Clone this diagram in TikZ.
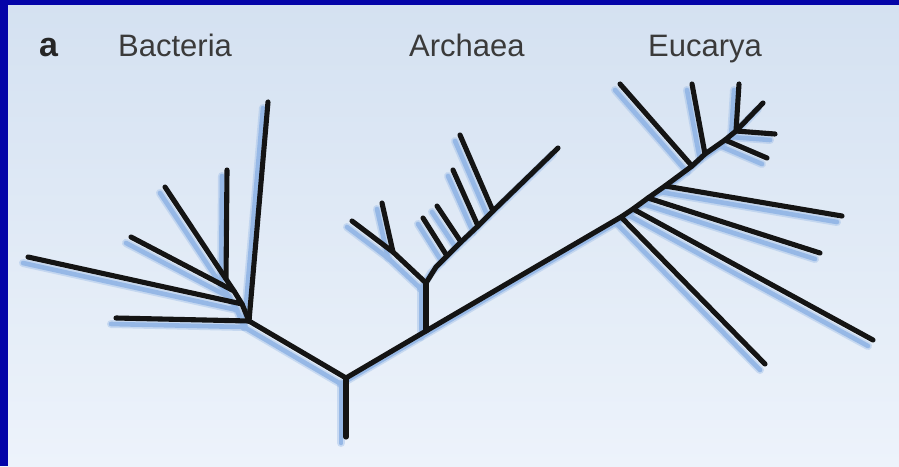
\documentclass[tikz,border=0pt]{standalone}
\usepackage{fontspec}
\setmainfont{Liberation Sans}
\definecolor{frameblue}{RGB}{4,4,168}
\definecolor{bgtop}{RGB}{212,225,241}
\definecolor{bgbot}{RGB}{237,243,251}
\definecolor{shadowblue}{RGB}{150,184,230}
\definecolor{labelgray}{RGB}{58,58,58}
\begin{document}
\begin{tikzpicture}[x=1pt,y=-1pt,
  edge/.style={line width=5.1pt,line cap=round,line join=round},
  label/.style={anchor=base west,inner sep=0pt,text=labelgray,font=\fontsize{31}{31}\selectfont}]
\useasboundingbox (0,0) rectangle (899,466);
% background
\shade[top color=bgtop,bottom color=bgbot] (0,0) rectangle (899,466);
\fill[frameblue] (0,0) rectangle (899,5);
\fill[frameblue] (0,0) rectangle (8,466);
% labels
\node[label,font=\fontsize{34}{34}\selectfont\bfseries,text=black!85] (lab-a) at (39,56) {a};
\node[label] (lab-b) at (118,56) {Bacteria};
\node[label] (lab-ar) at (409,56) {Archaea};
\node[label] (lab-eu) at (648,56) {Eucarya};
% coordinates
\coordinate (rb) at (346,437);
\coordinate (R) at (346,378);
% bacteria
\coordinate (B) at (249,321);
\coordinate (B3) at (242,304);
\coordinate (B2) at (234,291);
\coordinate (B1) at (226,279);
\coordinate (bl1) at (227,170);
\coordinate (bl2) at (165,187);
\coordinate (bl3) at (131,237);
\coordinate (bl4) at (28,257);
\coordinate (bl5) at (116,318);
\coordinate (bl6) at (268,102);
% archaea
\coordinate (A0) at (426,331);
\coordinate (A) at (426,283);
\coordinate (AL) at (393,252);
\coordinate (al1) at (352,221);
\coordinate (al2) at (382,203);
\coordinate (AR) at (436,267);
\coordinate (J1) at (447,256);
\coordinate (J2) at (461,242);
\coordinate (J3) at (478,226);
\coordinate (J4) at (493,211);
\coordinate (ar0) at (558,148);
\coordinate (ar1) at (423,218);
\coordinate (ar2) at (437,206);
\coordinate (ar3) at (453,170);
\coordinate (ar4) at (460,135);
% eucarya
\coordinate (E1) at (621,217);
\coordinate (E2) at (633,209);
\coordinate (E3) at (648,198);
\coordinate (E4) at (665,186);
\coordinate (E5) at (692,166);
\coordinate (E6) at (705,154);
\coordinate (E6b) at (725,140);
\coordinate (E7) at (736,131);
\coordinate (eu1) at (765,364);
\coordinate (eu2) at (873,340);
\coordinate (eu3) at (820,253);
\coordinate (eu4) at (842,216);
\coordinate (eu5) at (620,84);
\coordinate (eu6) at (692,84);
\coordinate (eu7) at (739,84);
\coordinate (eu8) at (763,103);
\coordinate (eu9) at (775,134);
\coordinate (eu10) at (767,158);
\newcommand\treeedges{%
  \draw[edge] (rb) -- (R);
  \draw[edge] (R) -- (B);
  \draw[edge] (bl5) -- (B);
  \draw[edge] (bl6) -- (B);
  \draw[edge] (bl4) -- (B3) -- (B);
  \draw[edge] (bl3) -- (B2) -- (B3);
  \draw[edge] (bl1) -- (B1) -- (B2);
  \draw[edge] (bl2) -- (B1);
  \draw[edge] (R) -- (A0) -- (E1) -- (E2) -- (E3) -- (E4) -- (E5) -- (E6) -- (E6b) -- (E7);
  \draw[edge] (A0) -- (A);
  \draw[edge] (al1) -- (AL) -- (A);
  \draw[edge] (al2) -- (AL);
  \draw[edge] (A) -- (AR) -- (J1) -- (J2) -- (J3) -- (J4) -- (ar0);
  \draw[edge] (ar1) -- (J1);
  \draw[edge] (ar2) -- (J2);
  \draw[edge] (ar3) -- (J3);
  \draw[edge] (ar4) -- (J4);
  \draw[edge] (E1) -- (eu1);
  \draw[edge] (E2) -- (eu2);
  \draw[edge] (E3) -- (eu3);
  \draw[edge] (E4) -- (eu4);
  \draw[edge] (eu5) -- (E5);
  \draw[edge] (eu6) -- (E6);
  \draw[edge] (E7) -- (eu7);
  \draw[edge] (E7) -- (eu8);
  \draw[edge] (E7) -- (eu9);
  \draw[edge] (E6b) -- (eu10);
}
% shadow
\begin{scope}[transform canvas={shift={(-5pt,-6pt)}},edge/.append style={draw=shadowblue,opacity=0.4,line width=8pt}]
  \treeedges
\end{scope}
\begin{scope}[transform canvas={shift={(-5pt,-6pt)}},edge/.append style={draw=shadowblue,line width=4.6pt}]
  \treeedges
\end{scope}
% tree
\begin{scope}[edge/.append style={draw=black!92}]
  \treeedges
\end{scope}
\end{tikzpicture}
\end{document}
